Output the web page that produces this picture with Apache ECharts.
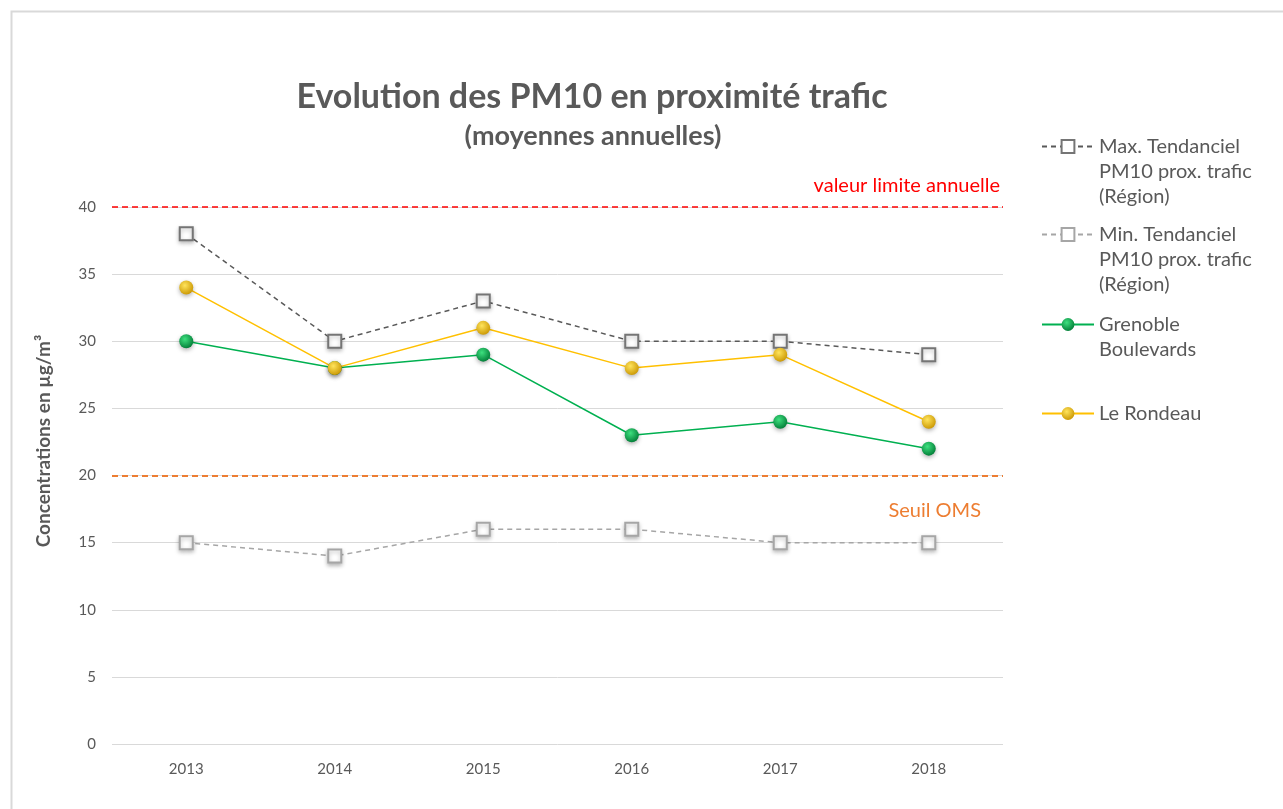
<!DOCTYPE html>
<html>
<head>
<meta charset="utf-8">
<title>Evolution des PM10</title>
<script src="https://cdn.jsdelivr.net/npm/echarts@6/dist/echarts.min.js"></script>
<style>
  html, body { margin: 0; padding: 0; background: #fff; }
  #main { width: 1283px; height: 809px; }
</style>
</head>
<body>
<div id="main"></div>
<script>
// années (axe X)
var years = ['2013', '2014', '2015', '2016', '2017', '2018'];

// séries
var maxTendanciel = [38, 30, 33, 30, 30, 29];
var minTendanciel = [15, 14, 16, 16, 15, 15];
var grenobleBoulevards = [30, 28, 29, 23, 24, 22];
var leRondeau = [34, 28, 31, 28, 29, 24];

// seuils
var valeurLimite = 40;
var seuilOMS = 20;

var font = 'Lato, "Open Sans", sans-serif';
var grey = '#595959';

function ball(c1, c2) {
  return {
    type: 'radial', x: 0.4, y: 0.35, r: 0.7,
    colorStops: [{offset: 0, color: c1}, {offset: 1, color: c2}]
  };
}

var myChart = echarts.init(document.getElementById('main'));

// une légende par série : lignes vides devant pour que l'icône reste sur la 1re ligne
function legendAt(name, top) {
  var nLines = name.split('\n').length;
  var pad = new Array(nLines).join('\n');
  return {
    data: [name],
    left: 1036,
    top: top,
    orient: 'vertical',
    itemWidth: 52,
    itemHeight: 16,
    itemGap: 0,
    formatter: function (n) { return pad + n; },
    textStyle: {
      fontFamily: font, fontSize: 20, color: grey, lineHeight: 25
    }
  };
}

myChart.setOption({
  animation: false,
  backgroundColor: '#fff',
  title: [
    {
      text: 'Evolution des PM10 en proximité trafic',
      left: 587, top: 75, textAlign: 'center',
      textStyle: {fontFamily: font, fontSize: 34, fontWeight: 'bold', color: grey}
    },
    {
      text: '(moyennes annuelles)',
      left: 588, top: 118, textAlign: 'center',
      textStyle: {fontFamily: font, fontSize: 27, fontWeight: 'bold', color: grey}
    }
  ],
  graphic: [
    {
      type: 'rect', left: 9, top: 9,
      shape: {width: 1300, height: 820},
      style: {fill: 'none', stroke: '#d9d9d9', lineWidth: 2}
    },
    {
      // titre de l'axe Y, centré comme dans l'original (un peu au-dessus du milieu)
      type: 'text', x: 44, y: 441, rotation: Math.PI / 2,
      style: {
        text: 'Concentrations en µg/m³',
        fontFamily: font, fontSize: 19, fontWeight: 'bold', fill: grey,
        align: 'center', verticalAlign: 'middle'
      }
    }
  ],
  legend: [
    legendAt('Max. Tendanciel\nPM10 prox. trafic\n(Région)', 79),
    legendAt('Min. Tendanciel\nPM10 prox. trafic\n(Région)', 167),
    legendAt('Grenoble\nBoulevards', 282),
    legendAt('Le Rondeau', 396)
  ],
  grid: {left: 112, right: 280, top: 207, bottom: 65},
  xAxis: {
    type: 'category',
    data: years,
    axisLine: {show: false},
    axisTick: {show: false},
    axisLabel: {fontFamily: font, fontSize: 15, color: grey, margin: 18}
  },
  yAxis: {
    type: 'value',
    min: 0, max: 40, interval: 5,
    axisLabel: {fontFamily: font, fontSize: 15, color: grey, margin: 16},
    splitLine: {lineStyle: {color: '#d9d9d9', width: 1}}
  },
  series: [
    {
      name: 'Max. Tendanciel\nPM10 prox. trafic\n(Région)',
      type: 'line',
      data: maxTendanciel,
      symbol: 'rect',
      symbolSize: 13,
      lineStyle: {color: grey, width: 1.5, type: [5, 4]},
      itemStyle: {color: '#fff', borderColor: '#757575', borderWidth: 2,
        shadowColor: 'rgba(0,0,0,0.25)', shadowBlur: 4, shadowOffsetY: 2},
      markLine: {
        silent: true,
        symbol: 'none',
        data: [
          {
            yAxis: valeurLimite,
            lineStyle: {color: '#ff0000', width: 1.5, type: [6, 4]},
            label: {
              formatter: 'valeur limite annuelle', position: 'insideEndTop',
              distance: [3, 11],
              fontFamily: font, fontSize: 20, color: '#ff0000'
            }
          },
          {
            yAxis: seuilOMS,
            lineStyle: {color: '#ed7d31', width: 2, type: [6, 4]},
            label: {
              formatter: 'Seuil OMS', position: 'insideEndBottom',
              distance: [22, 25],
              fontFamily: font, fontSize: 20, color: '#ed7d31'
            }
          }
        ]
      }
    },
    {
      name: 'Min. Tendanciel\nPM10 prox. trafic\n(Région)',
      type: 'line',
      data: minTendanciel,
      symbol: 'rect',
      symbolSize: 13,
      lineStyle: {color: '#a6a6a6', width: 1.5, type: [5, 4]},
      itemStyle: {color: '#fff', borderColor: '#a6a6a6', borderWidth: 2,
        shadowColor: 'rgba(0,0,0,0.25)', shadowBlur: 4, shadowOffsetY: 2}
    },
    {
      name: 'Grenoble\nBoulevards',
      type: 'line',
      data: grenobleBoulevards,
      symbol: 'circle',
      symbolSize: 14,
      lineStyle: {color: '#00b050', width: 1.5},
      itemStyle: {color: ball('#3ee07f', '#007a35'), borderWidth: 0,
        shadowColor: 'rgba(0,0,0,0.3)', shadowBlur: 4, shadowOffsetY: 2}
    },
    {
      name: 'Le Rondeau',
      type: 'line',
      data: leRondeau,
      symbol: 'circle',
      symbolSize: 14,
      lineStyle: {color: '#ffc000', width: 1.5},
      itemStyle: {color: ball('#ffe45c', '#c99500'), borderWidth: 0,
        shadowColor: 'rgba(0,0,0,0.3)', shadowBlur: 4, shadowOffsetY: 2}
    }
  ]
});

window.addEventListener('resize', function () {
  myChart.resize();
});
</script>
</body>
</html>
